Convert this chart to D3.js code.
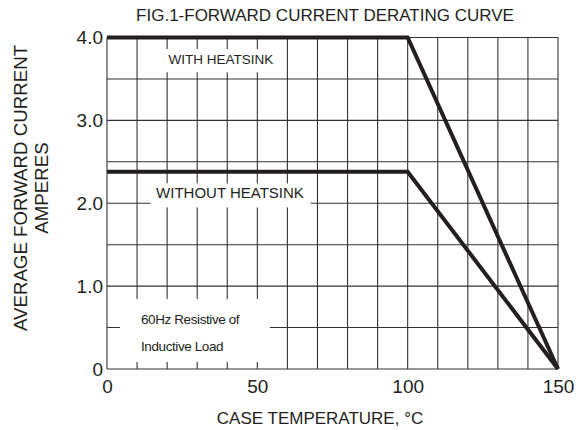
<!DOCTYPE html>
<html>
<meta charset="UTF-8">
<head>
<style>
body { margin: 0; background: white; }
text { font-family: "Liberation Sans", Arial, sans-serif; fill: #231f20; }
</style>
</head>
<body>
<script src="https://d3js.org/d3.v7.min.js"></script>
<script>

// data
var temps = [0, 100, 150]
var withHeatsink = [4.0, 4.0, 0]
var withoutHeatsink = [2.38, 2.38, 0]
var xTickValues = [0, 50, 100, 150]
var xTickLabels = ["0", "50", "100", "150"]
var yTickValues = [0, 1, 2, 3, 4]
var yTickLabels = ["0", "1.0", "2.0", "3.0", "4.0"]

// canvas
var svgWidth = 580,
    svgHeight = 430,
    margin = {top: 37.5, bottom: 61, left: 107, right: 22},
    chartWidth = svgWidth - margin.left - margin.right,
    chartHeight = svgHeight - margin.top - margin.bottom

var svg = d3.select("body").append("svg")
    .attr("width", svgWidth)
    .attr("height", svgHeight)

var xScale = d3.scaleLinear().domain([0, 150]).range([margin.left, margin.left + chartWidth])
var yScale = d3.scaleLinear().domain([0, 4]).range([margin.top + chartHeight, margin.top])

// grid: every 10 degC and every 0.5 A
var grid = svg.append("g").attr("stroke", "#333").attr("stroke-width", 1.1)
grid.selectAll(".vgrid").data(d3.range(0, 151, 10)).enter().append("line")
    .attr("x1", d => xScale(d)).attr("x2", d => xScale(d))
    .attr("y1", yScale(0)).attr("y2", yScale(4))
grid.selectAll(".hgrid").data(d3.range(0, 4.01, 0.5)).enter().append("line")
    .attr("x1", xScale(0)).attr("x2", xScale(150))
    .attr("y1", d => yScale(d)).attr("y2", d => yScale(d))

// white boxes behind the labels
var boxes = [
  {t0: 17, t1: 59, v0: 3.58, v1: 3.86},
  {t0: 14.5, t1: 67.7, v0: 1.95, v1: 2.24},
  {t0: 4.3, t1: 54.2, v0: 0.085, v1: 0.845}
]
svg.selectAll(".box").data(boxes).enter().append("rect")
    .attr("x", d => xScale(d.t0))
    .attr("y", d => yScale(d.v1))
    .attr("width", d => xScale(d.t1) - xScale(d.t0))
    .attr("height", d => yScale(d.v0) - yScale(d.v1))
    .attr("fill", "white")

// derating curves
var line = d3.line().x((d, i) => xScale(temps[i])).y(d => yScale(d))
svg.selectAll(".curve").data([withHeatsink, withoutHeatsink]).enter().append("path")
    .attr("d", d => line(d))
    .attr("fill", "none")
    .attr("stroke", "#231f1f")
    .attr("stroke-width", 4)
    .attr("stroke-linejoin", "miter")

// axes (labels only, the grid draws the frame)
var xAxis = d3.axisBottom(xScale).tickValues(xTickValues)
    .tickFormat((d, i) => xTickLabels[i]).tickSize(0).tickPadding(11)
var yAxis = d3.axisLeft(yScale).tickValues(yTickValues)
    .tickFormat((d, i) => yTickLabels[i]).tickSize(0).tickPadding(4)

svg.append("g")
    .attr("transform", "translate(0," + yScale(0) + ")")
    .call(xAxis)
    .call(g => g.select(".domain").remove())
    .selectAll("text")
      .attr("font-size", 19)
      .attr("font-family", "Liberation Sans, Arial, sans-serif")
      .attr("fill", "#231f20")

svg.append("g")
    .attr("transform", "translate(" + xScale(0) + ",0)")
    .call(yAxis)
    .call(g => g.select(".domain").remove())
    .selectAll("text")
      .attr("font-size", 19)
      .attr("font-family", "Liberation Sans, Arial, sans-serif")
      .attr("fill", "#231f20")

// titles
svg.append("text")
    .attr("x", 325).attr("y", 21)
    .attr("text-anchor", "middle")
    .attr("font-size", 17)
    .text("FIG.1-FORWARD CURRENT DERATING CURVE")

svg.append("text")
    .attr("x", 320).attr("y", 424)
    .attr("text-anchor", "middle")
    .attr("font-size", 17)
    .text("CASE TEMPERATURE, °C")

svg.append("text")
    .attr("transform", "translate(27,188) rotate(-90)")
    .attr("text-anchor", "middle")
    .attr("font-size", 18.7)
    .text("AVERAGE FORWARD CURRENT")

svg.append("text")
    .attr("transform", "translate(48,188) rotate(-90)")
    .attr("text-anchor", "middle")
    .attr("font-size", 18.7)
    .text("AMPERES")

// curve labels
svg.append("text")
    .attr("x", xScale(37.9)).attr("y", yScale(3.72))
    .attr("text-anchor", "middle").attr("dominant-baseline", "middle")
    .attr("font-size", 13.5)
    .text("WITH HEATSINK")

svg.append("text")
    .attr("x", xScale(40.9)).attr("y", yScale(2.11))
    .attr("text-anchor", "middle").attr("dominant-baseline", "middle")
    .attr("font-size", 15)
    .text("WITHOUT HEATSINK")

svg.append("text")
    .attr("x", xScale(11.3)).attr("y", yScale(0.583))
    .attr("dominant-baseline", "middle")
    .attr("font-size", 13.5).attr("letter-spacing", -0.4)
    .text("60Hz Resistive of")

svg.append("text")
    .attr("x", xScale(11.3)).attr("y", yScale(0.257))
    .attr("dominant-baseline", "middle")
    .attr("font-size", 13.5).attr("letter-spacing", -0.4)
    .text("Inductive Load")

</script>
</body>
</html>
